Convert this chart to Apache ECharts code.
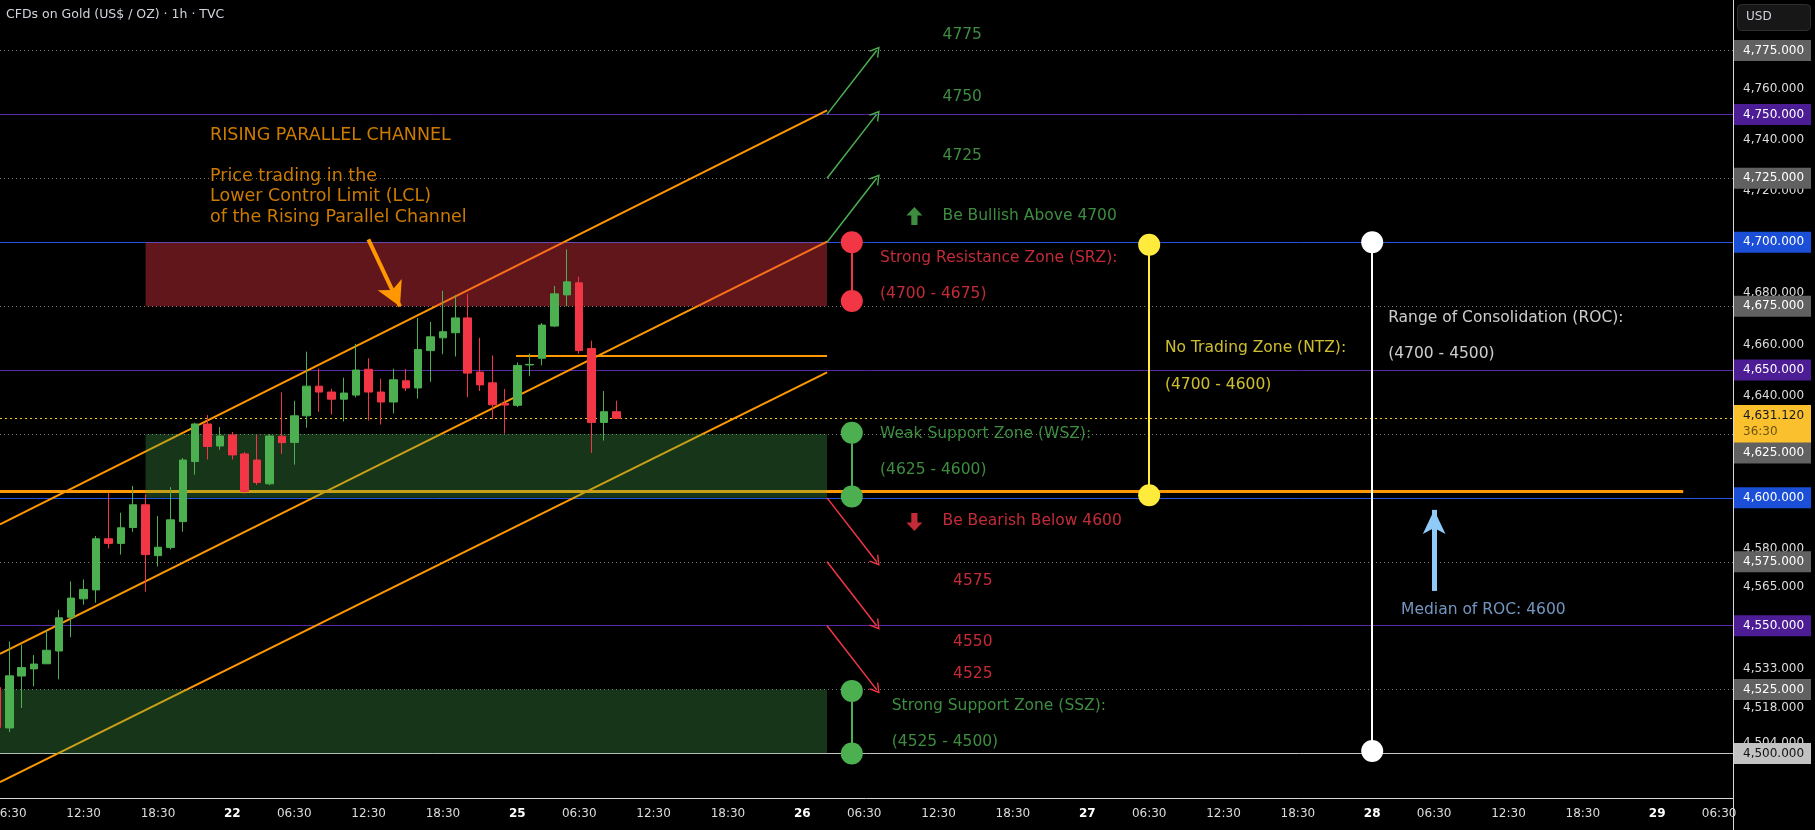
<!DOCTYPE html>
<html>
<head>
<meta charset="utf-8">
<script src="https://cdn.jsdelivr.net/npm/echarts@6/dist/echarts.min.js"></script>
<style>
html,body{margin:0;padding:0;background:#000;}
#chart{width:1815px;height:830px;}
</style>
</head>
<body>
<div id="chart"></div>
<script>
// ---------------- DATA ----------------
// hourly bar slots (0 = 06:30 on day 21)
const candleSlots = [-1,0,1,2,3,4,5,6,7,8,9,10,11,12,13,14,15,16,17,18,19,20,21,22,23,24,25,26,27,28,29,30,31,32,33,34,35,36,37,38,39,40,41,42,43,44,45,46,47,48,49];
const openPrices  = [4525.8,4510.0,4530.3,4533.1,4535.1,4540.1,4553.3,4560.5,4564.0,4584.0,4582.2,4588.4,4597.3,4577.4,4580.6,4590.7,4614.2,4628.9,4620.3,4624.6,4617.2,4614.8,4605.5,4624.1,4621.7,4632.1,4643.7,4641.4,4638.6,4640.2,4650.3,4641.4,4637.5,4645.8,4643.0,4657.6,4662.6,4664.6,4670.4,4649.2,4645.0,4636.9,4636.2,4652.0,4654.6,4667.2,4679.4,4684.1,4658.4,4629.5,4633.7];
const closePrices = [4510.2,4530.4,4533.6,4535.0,4540.4,4553.1,4560.8,4564.2,4584.0,4582.2,4588.3,4597.3,4577.8,4580.7,4591.4,4614.8,4628.9,4620.1,4624.2,4616.8,4602.5,4606.0,4624.2,4621.6,4632.1,4643.7,4641.4,4638.6,4641.0,4650.0,4641.4,4637.5,4646.2,4643.0,4658.0,4663.0,4665.0,4670.4,4648.8,4644.2,4636.4,4636.3,4651.8,4652.2,4667.6,4679.8,4684.5,4657.6,4629.5,4633.7,4631.12];
const lowPrices   = [4508.0,4508.4,4517.8,4526.3,4535.0,4529.0,4545.5,4558.2,4559.0,4580.2,4577.8,4586.7,4563.3,4573.2,4579.8,4586.8,4609.1,4615.0,4618.8,4615.0,4601.6,4605.0,4605.0,4617.2,4613.0,4627.5,4633.7,4632.6,4629.9,4639.3,4630.3,4628.7,4633.0,4641.8,4638.8,4645.4,4656.2,4655.3,4639.4,4641.8,4630.8,4625.1,4635.5,4647.6,4651.8,4666.8,4675.0,4656.4,4617.6,4622.4,4631.1];
const highPrices  = [4527.0,4543.8,4542.6,4538.5,4548.1,4556.2,4567.3,4568.1,4585.1,4602.0,4594.2,4604.7,4601.4,4592.9,4604.2,4615.6,4629.4,4632.4,4627.7,4625.8,4618.0,4624.6,4624.9,4641.3,4638.0,4657.2,4650.5,4642.7,4647.0,4660.2,4654.6,4646.6,4650.5,4650.4,4670.4,4668.8,4681.0,4679.4,4679.9,4662.6,4655.7,4642.6,4653.0,4656.5,4668.4,4682.9,4697.2,4686.5,4661.5,4641.8,4638.0];

const tickSlots  = [0,6,12,18,23,29,35,41,46,52,58,64,69,75,81,87,92,98,104,110,115,121,127,133,138];
const tickLabels = ['06:30','12:30','18:30','22','06:30','12:30','18:30','25','06:30','12:30','18:30','26','06:30','12:30','18:30','27','06:30','12:30','18:30','28','06:30','12:30','18:30','29','06:30'];
const dayLabels  = ['22','25','26','27','28','29'];
const priceTicks = [4504,4518,4533,4565,4580,4640,4660,4680,4720,4740,4760];

const greyLevels   = [4775,4725,4675,4625,4575,4525];
const purpleLevels = [4750,4650,4550];
const blueLevels   = [4700,4600];
const baseLevels   = [4500];
const lastPrice = 4631.12;
const countdown = '36:30';

const channelUpper  = [[-0.75,4589.6],[66,4751.6]];
const channelMiddle = [[-0.75,4539.0],[66,4700.2]];
const channelLower  = [[-0.75,4488.8],[66,4649.1]];
const zoneSRZ = [11,66,4700,4675];
const zoneWSZ = [11,66,4625,4600];
const zoneSSZ = [-0.75,66,4525,4500];
const trendLong  = [[-0.75,4602.7],[135.1,4602.7]];
const trendShort = [[40.9,4655.6],[66,4655.6]];
const targetSlots = [66,70];
const bullTargets = [[4700,4725],[4725,4750],[4750,4775]];
const bearTargets = [[4600,4575],[4575,4550],[4550,4525]];
const srzMark = [68,4700,4677];
const wszMark = [68,4625.5,4600.5];
const sszMark = [68,4524.5,4500];
const ntzMark = [92,4699,4601];
const rocMark = [110,4700,4501];
const lclPointer = [[28.98,4701.1],[31.53,4674.9]];
const medianPointer = [[115,4563.6],[115,4595.3]];

// ---------------- CHART ----------------
const FONT = 'DejaVu Sans';
const GREEN = '#4caf50', RED = '#f23645', ORANGE = '#ff9800', YELLOW = '#ffeb3b';
const fmtPrice = v => v.toLocaleString('en-US',{minimumFractionDigits:3,maximumFractionDigits:3});
const boxLabel = (text, bg, fg) => ({
  show: true, position: 'end', distance: 1, formatter: text,
  backgroundColor: bg, color: fg, fontFamily: FONT, fontSize: 12,
  lineHeight: 15, padding: [3,6,3,9], width: 62, align: 'left'
});
const HIDDEN = {color: 'rgba(0,0,0,0)', width: 0, type: 'solid'};

const levelItems = [];
greyLevels.forEach(v => {
  const shifted = (v === 4625);
  levelItems.push({yAxis: v, lineStyle: {color:'#7a7a7a', width:1, type:[1,3]},
    label: shifted ? {show:false} : boxLabel(fmtPrice(v), '#616161', '#ffffff')});
});
purpleLevels.forEach(v => levelItems.push({yAxis: v, lineStyle:{color:'#5a27a8', width:1, type:'solid'}, label: boxLabel(fmtPrice(v), '#4c1d95', '#ffffff')}));
blueLevels.forEach(v => levelItems.push({yAxis: v, lineStyle:{color:'#2454e0', width:1, type:'solid'}, label: boxLabel(fmtPrice(v), '#1b4fd8', '#ffffff')}));
baseLevels.forEach(v => levelItems.push({yAxis: v, lineStyle:{color:'#c4c4c4', width:1, type:'solid'}, label: boxLabel(fmtPrice(v), '#c2c2c2', '#111111')}));
levelItems.push({yAxis: lastPrice, lineStyle:{color:'#f5c322', width:1, type:[2,3]}, label:{show:false}});
// label holders placed just off the crowded price lines (as the price scale does)
levelItems.push({yAxis: 4628.9, lineStyle: HIDDEN, label: Object.assign(boxLabel('{a|' + fmtPrice(lastPrice) + '}\n{b|' + countdown + '}', '#fbc02d', '#131722'), {lineHeight:16, rich:{a:{color:'#131722',fontSize:12,fontFamily:FONT,lineHeight:16},b:{color:'#6b5310',fontSize:12,fontFamily:FONT,lineHeight:16}}})});
levelItems.push({yAxis: 4617.6, lineStyle: HIDDEN, label: boxLabel(fmtPrice(4625), '#616161', '#ffffff')});

const chevron = 'path://M6,0 L12,10 L10.4,10 L6,2.8 L1.6,10 L0,10 Z';
const seg = (a, b, extra) => [Object.assign({coord: a}, extra || {}), {coord: b}];
const vMark = (m, color) => seg([m[0], m[1]], [m[0], m[2]], {lineStyle:{color: color, width: 2, type:'solid'}});

const texts = [
  ['RISING PARALLEL CHANNEL', 16.16, 4741.8, ORANGE, 17.5],
  ['Price trading in the\nLower Control Limit (LCL)\nof the Rising Parallel Channel', 16.16, 4717.8, ORANGE, 17.5],
  ['4775', 75.28, 4781.2, GREEN, 15.5],
  ['4750', 75.28, 4756.7, GREEN, 15.5],
  ['4725', 75.28, 4733.6, GREEN, 15.5],
  ['Be Bullish Above 4700', 75.28, 4710.1, GREEN, 15.5],
  ['Strong Resistance Zone (SRZ):', 70.24, 4693.8, RED, 15.5],
  ['(4700 - 4675)', 70.24, 4679.75, RED, 15.5],
  ['No Trading Zone (NTZ):', 93.23, 4658.5, YELLOW, 15.5],
  ['(4700 - 4600)', 93.23, 4644.0, YELLOW, 15.5],
  ['Range of Consolidation (ROC):', 111.25, 4670.2, '#ffffff', 15.5],
  ['(4700 - 4500)', 111.25, 4656.2, '#ffffff', 15.5],
  ['Weak Support Zone (WSZ):', 70.24, 4625.0, GREEN, 15.5],
  ['(4625 - 4600)', 70.24, 4610.9, GREEN, 15.5],
  ['Be Bearish Below 4600', 75.28, 4591.0, RED, 15.5],
  ['4575', 76.13, 4567.5, RED, 15.5],
  ['4550', 76.13, 4543.5, RED, 15.5],
  ['4525', 76.13, 4531.3, RED, 15.5],
  ['Strong Support Zone (SSZ):', 71.18, 4518.6, GREEN, 15.5],
  ['(4525 - 4500)', 71.18, 4504.5, GREEN, 15.5],
  ['Median of ROC: 4600', 112.29, 4556.1, '#8fbcf0', 15.5]
];

const option = {
  backgroundColor: '#000000',
  animation: false,
  textStyle: {fontFamily: FONT},
  grid: {left: 0, right: 82, top: 0, bottom: 32, containLabel: false, outerBoundsMode: 'none'},
  xAxis: [{
    type: 'value', min: -0.75, max: 139.12,
    axisLine: {show: true, onZero: false, lineStyle: {color: '#d9d9d9', width: 1}},
    axisTick: {show: false}, splitLine: {show: false},
    axisLabel: {
      customValues: tickSlots, margin: 10, color: '#dcdcdc', fontSize: 12, fontFamily: FONT,
      hideOverlap: false, showMinLabel: true, showMaxLabel: true,
      formatter: v => {
        const i = tickSlots.indexOf(Math.round(v));
        if (i < 0) return '';
        const t = tickLabels[i];
        return dayLabels.indexOf(t) >= 0 ? '{d|' + t + '}' : t;
      },
      rich: {d: {fontWeight: 'bold', color: '#ffffff', fontSize: 12, fontFamily: FONT}}
    }
  }],
  yAxis: [{
    type: 'value', position: 'right', min: 4482.6, max: 4794.75,
    axisLine: {show: true, onZero: false, lineStyle: {color: '#d9d9d9', width: 1}},
    axisTick: {show: false}, splitLine: {show: false},
    axisLabel: {customValues: priceTicks, margin: 10, color: '#dcdcdc', fontSize: 12, fontFamily: FONT, formatter: v => fmtPrice(v)}
  }],
  graphic: [
    {type: 'text', left: 6, top: 8, z: 100, style: {text: 'CFDs on Gold (US$ / OZ) · 1h · TVC', fill: '#d1d4dc', font: '12.5px "DejaVu Sans"'}},
    {type: 'rect', left: 1737, top: 4, z: 100, shape: {width: 73, height: 26, r: 4}, style: {fill: '#171717', stroke: '#2e2e2e', lineWidth: 1}},
    {type: 'text', left: 1746, top: 11, z: 101, style: {text: 'USD', fill: '#d1d4dc', font: '12px "DejaVu Sans"'}},
    {type: 'line', z: 100, shape: {x1: 1733.5, y1: 798, x2: 1733.5, y2: 830}, style: {stroke: '#d9d9d9', lineWidth: 1}}
  ],
  series: [
    // horizontal levels + price scale boxes
    {type: 'line', name: 'levels', xAxisIndex: 0, yAxisIndex: 0, data: [], silent: true,
     markLine: {z: 1, silent: true, symbol: ['none','none'], animation: false, data: levelItems}},
    // rising parallel channel
    ...[channelUpper, channelMiddle, channelLower].map(d => ({
      type: 'line', z: 1.2, silent: true, showSymbol: false, data: d,
      lineStyle: {color: ORANGE, width: 2}, itemStyle: {color: ORANGE}
    })),
    // orange horizontal trend lines
    {type: 'line', data: [], silent: true,
     markLine: {z: 1.3, silent: true, symbol: ['none','none'], label: {show: false}, animation: false,
       data: [seg(trendLong[0], trendLong[1], {lineStyle:{color: ORANGE, width: 3, type:'solid'}}),
              seg(trendShort[0], trendShort[1], {lineStyle:{color: ORANGE, width: 2, type:'solid'}})]}},
    // zones
    {type: 'custom', z: 1.5, silent: true, clip: true,
     encode: {x: [0,1], y: [2,3]},
     renderItem: (params, api) => {
       const p0 = api.coord([api.value(0), api.value(2)]);
       const p1 = api.coord([api.value(1), api.value(3)]);
       return {type: 'rect', shape: {x: p0[0], y: p0[1], width: p1[0]-p0[0], height: p1[1]-p0[1]}, style: {fill: api.visual('color')}};
     },
     data: [
       {value: zoneSRZ, itemStyle: {color: 'rgba(242,54,69,0.4)'}},
       {value: zoneWSZ, itemStyle: {color: 'rgba(76,175,80,0.3)'}},
       {value: zoneSSZ, itemStyle: {color: 'rgba(76,175,80,0.3)'}}
     ]},
    // candles
    {type: 'candlestick', z: 4, barWidth: 8, silent: true,
     data: candleSlots.map((s, i) => [s, openPrices[i], closePrices[i], lowPrices[i], highPrices[i]]),
     itemStyle: {color: GREEN, color0: RED, borderColor: GREEN, borderColor0: RED, borderWidth: 1}},
    // target arrows
    {type: 'line', data: [], silent: true,
     markLine: {silent: true, symbol: ['none', chevron], symbolSize: [12, 10], label: {show: false}, animation: false,
       lineStyle: {color: GREEN, width: 1.5, type: 'solid'},
       data: bullTargets.map(t => seg([targetSlots[0], t[0]], [targetSlots[1], t[1]]))}},
    {type: 'line', data: [], silent: true,
     markLine: {silent: true, symbol: ['none', chevron], symbolSize: [12, 10], label: {show: false}, animation: false,
       lineStyle: {color: RED, width: 1.5, type: 'solid'},
       data: bearTargets.map(t => seg([targetSlots[0], t[0]], [targetSlots[1], t[1]]))}},
    // zone markers with dots
    {type: 'line', data: [], silent: true,
     markLine: {silent: true, symbol: ['circle','circle'], symbolSize: 22, label: {show: false}, animation: false,
       data: [vMark(srzMark, RED), vMark(wszMark, GREEN), vMark(sszMark, GREEN), vMark(ntzMark, YELLOW), vMark(rocMark, '#ffffff')]}},
    // pointer arrows
    {type: 'line', data: [], silent: true,
     markLine: {silent: true, symbol: ['none','arrow'], symbolSize: [20, 24], label: {show: false}, animation: false,
       data: [seg(lclPointer[0], lclPointer[1], {lineStyle:{color: ORANGE, width: 4, type:'solid'}})]}},
    {type: 'line', data: [], silent: true,
     markLine: {silent: true, symbol: ['none','arrow'], symbolSize: [17, 24], label: {show: false}, animation: false,
       data: [seg(medianPointer[0], medianPointer[1], {lineStyle:{color: '#90caf9', width: 5, type:'solid'}})]}},
    // bullish / bearish icons
    {type: 'scatter', z: 6, silent: true,
     data: [
       {value: [73.05, 4710.3], symbol: 'path://M9,0 L18,9 L12.5,9 L12.5,19 L5.5,19 L5.5,9 L0,9 Z', itemStyle: {color: GREEN}},
       {value: [73.05, 4590.6], symbol: 'path://M5.5,0 L12.5,0 L12.5,10 L18,10 L9,19 L0,10 L5.5,10 Z', itemStyle: {color: RED}}
     ],
     symbolSize: [16, 18]},
    // text annotations
    {type: 'scatter', z: 7, silent: true, symbolSize: 1, itemStyle: {color: 'rgba(0,0,0,0)'},
     data: texts.map(t => ({value: [t[1], t[2]], label: {show: true, position: 'right', distance: 0,
        formatter: t[0], color: t[3], fontSize: t[4], fontFamily: FONT, lineHeight: t[4] > 17 ? 20.3 : 18, align: 'left'}}))}
  ]
};

const chart = echarts.init(document.getElementById('chart'), null, {renderer: 'canvas'});
chart.setOption(option);
</script>
</body>
</html>
